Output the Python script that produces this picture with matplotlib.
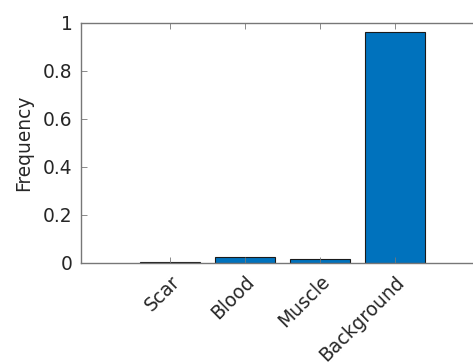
import numpy as np
import matplotlib.pyplot as plt
from matplotlib.ticker import FuncFormatter

classes = ['Scar', 'Blood', 'Muscle', 'Background']
freq = [0.004, 0.022, 0.015, 0.962]
yticks = [0, 0.2, 0.4, 0.6, 0.8, 1]

fig = plt.figure(figsize=(4.73, 3.62), dpi=100)
# axes box runs off the right edge of the figure
ax = fig.add_axes([81 / 473, (362 - 262.5) / 362, (484 - 81) / 473, 240 / 362])

x = np.arange(1, len(classes) + 1)
ax.bar(x, freq, width=0.8, color='#0072BD', edgecolor='#1a1a1a', linewidth=0.8)

ax.set_xlim(-0.19, 5.19)
ax.set_ylim(0, 1)
ax.set_xticks(x)
ax.set_xticklabels(classes, rotation=45, ha='right', va='top', rotation_mode='anchor')
ax.set_yticks(yticks)
ax.yaxis.set_major_formatter(FuncFormatter(lambda v, p: f'{v:g}'))
ax.set_ylabel('Frequency', fontsize=13.4, color='#262626', labelpad=7.5)

for s in ax.spines.values():
    s.set_color('#777777')
    s.set_linewidth(1.0)
ax.tick_params(direction='in', length=4, width=0.6, color='#777777',
               labelsize=13.4, labelcolor='#262626', top=True, right=True)
ax.tick_params(axis='y', pad=6)
ax.tick_params(axis='x', pad=7)

fig.savefig('out.png', dpi=100)
